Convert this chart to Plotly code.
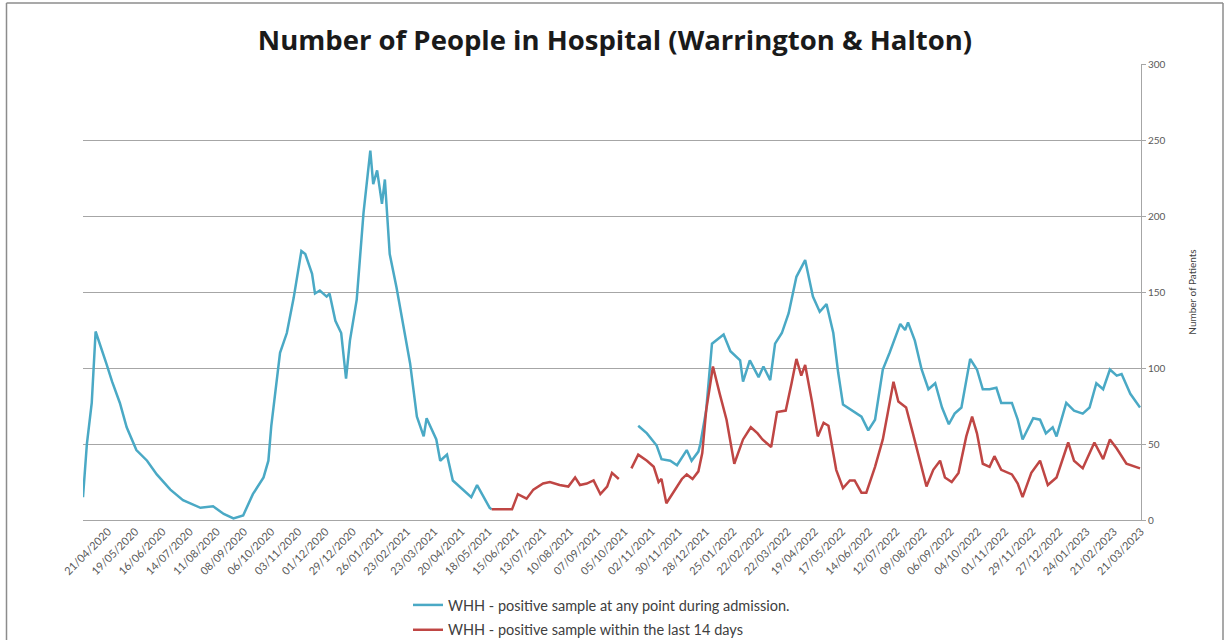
import pandas as pd
import plotly.graph_objects as go

# ---------------- data ----------------
START = "2020-03-26"          # first day of the series (day 0)
END = "2023-03-21"

tick_labels = [
    "21/04/2020", "19/05/2020", "16/06/2020", "14/07/2020", "11/08/2020", "08/09/2020",
    "06/10/2020", "03/11/2020", "01/12/2020", "29/12/2020", "26/01/2021", "23/02/2021",
    "23/03/2021", "20/04/2021", "18/05/2021", "15/06/2021", "13/07/2021", "10/08/2021",
    "07/09/2021", "05/10/2021", "02/11/2021", "30/11/2021", "28/12/2021", "25/01/2022",
    "22/02/2022", "22/03/2022", "19/04/2022", "17/05/2022", "14/06/2022", "12/07/2022",
    "09/08/2022", "06/09/2022", "04/10/2022", "01/11/2022", "29/11/2022", "27/12/2022",
    "24/01/2023", "21/02/2023", "21/03/2023",
]

# WHH - positive sample at any point during admission (day offset from START, patients)
any_day = [0, 4, 9, 13, 24, 30, 38, 45, 55, 66, 76, 90, 103, 121, 134, 145, 155, 165,
           175, 186, 191, 194, 203, 210, 217, 225, 229, 236, 239, 244, 251, 254, 260,
           266, 271, 275, 282, 289, 296, 299, 303, 308, 311, 316, 323, 330, 337, 344,
           351, 354, 364, 368, 375, 381, 392, 400, 406, 412, 419, 421,
           None,
           572, 581, 591, 596, 605, 612, 622, 627, 634, 636, 642, 648, 660, 667, 677,
           680, 687, 696, 701, 708, 713, 720, 727, 735, 744, 747, 752, 759, 766, 773,
           778, 783, 793, 802, 809, 816, 824, 831, 842, 847, 850, 857, 864, 871, 878,
           885, 892, 898, 905, 910, 914, 921, 927, 934, 941, 946, 957, 963, 968, 979,
           986, 992, 999, 1003, 1013, 1021, 1030, 1037, 1044, 1051, 1058, 1065, 1070,
           1079, 1089]
any_val = [15, 50, 77, 124, 103, 91, 77, 61, 46, 39, 30, 20, 13, 8, 9, 4, 1, 3,
           17, 28, 39, 62, 110, 123, 146, 177, 175, 162, 149, 151, 147, 149, 131,
           123, 93, 118, 145, 202, 243, 221, 230, 208, 224, 175, 153, 127, 103, 68,
           55, 67, 53, 39, 43, 26, 20, 15, 23, 16, 8, 7,
           None,
           62, 57, 49, 40, 39, 36, 46, 39, 45, 50, 72, 116, 122, 111, 105,
           91, 105, 94, 101, 92, 116, 123, 136, 160, 171, 162, 147, 137, 142, 123,
           97, 76, 72, 68, 59, 66, 99, 110, 129, 125, 130, 118, 99, 86, 90,
           74, 63, 70, 74, 92, 106, 99, 86, 86, 87, 77, 77, 66, 53, 67,
           66, 57, 61, 55, 77, 72, 70, 74, 90, 86, 99, 95, 96,
           83, 74]

# WHH - positive sample within the last 14 days
d14_day = [421, 442, 448, 457, 464, 474, 481, 491, 500, 507, 512, 519, 526, 533, 540,
           545, 552,
           None,
           565, 572, 581, 588, 593, 596, 601, 610, 617, 622, 628, 634, 638, 642, 649,
           656, 663, 671, 680, 688, 695, 700, 709, 715, 724, 730, 735, 740, 744, 751,
           757, 763, 768, 776, 783, 790, 795, 802, 807, 816, 824, 829, 835, 840, 848,
           855, 862, 869, 876, 883, 888, 895, 902, 910, 916, 921, 927, 934, 939, 946,
           957, 963, 968, 977, 986, 994, 1003, 1015, 1021, 1030, 1042, 1051, 1058,
           1065, 1075, 1089]
d14_val = [7, 7, 17, 14, 20, 24, 25, 23, 22, 28, 23, 24, 26, 17, 22,
           31, 27,
           None,
           34, 43, 39, 35, 25, 27, 11, 20, 27, 30, 27, 32, 44, 72, 101,
           83, 66, 37, 53, 61, 57, 53, 48, 71, 72, 90, 106, 95, 102, 78,
           55, 64, 62, 33, 21, 26, 26, 18, 18, 35, 53, 70, 91, 78, 74,
           57, 39, 22, 33, 39, 28, 25, 31, 55, 68, 57, 37, 35, 42, 33,
           30, 24, 15, 31, 39, 23, 28, 51, 39, 34, 51, 40, 53,
           47, 37, 34]

any_name = "WHH - positive sample at any point during admission."
d14_name = "WHH - positive sample within the last 14 days"

# ---------------- build ----------------
start = pd.Timestamp(START)


def to_dates(days):
    return [None if d is None else start + pd.Timedelta(days=d) for d in days]


tick_vals = pd.to_datetime(tick_labels, dayfirst=True)

FONT = "Lato"
BLUE = "#4AA9C5"
RED = "#BF4644"

fig = go.Figure()
fig.add_trace(go.Scatter(x=to_dates(any_day), y=any_val, mode="lines", name=any_name,
                         line=dict(color=BLUE, width=2.5), connectgaps=False,
                         legendgroup="a", showlegend=True))
fig.add_trace(go.Scatter(x=to_dates(d14_day), y=d14_val, mode="lines", name=d14_name,
                         line=dict(color=RED, width=2.5), connectgaps=False,
                         legendgroup="b", showlegend=True))

L, R, T, B = 83, 1141, 64, 520
W, H = 1230, 640


def px_x(px):
    return (px - L) / (R - L)


def px_y(py):
    return (B - py) / (B - T)


FRAME = dict(color="#8C8C8C", width=1.5)
frame_left, frame_right, frame_top, frame_bottom = 6.5, 1223, 3, 660

fig.update_layout(
    width=W, height=H,
    margin=dict(l=L, r=W - R, t=T, b=H - B, autoexpand=False),
    paper_bgcolor="white", plot_bgcolor="white",
    font=dict(family=FONT, color="#404040"),
    showlegend=True,
    title=dict(text="<b>Number of People in Hospital (Warrington &amp; Halton)</b>",
               x=0.5, xref="container", xanchor="center",
               y=1 - 40 / H, yref="container", yanchor="middle",
               font=dict(family="Open Sans", size=27.5, color="#1a1a1a")),
    legend=dict(x=px_x(408), xanchor="left", y=px_y(589), yanchor="top",
                orientation="v", tracegroupgap=3,
                bgcolor="rgba(0,0,0,0)", font=dict(size=14.5, color="#404040")),
    xaxis=dict(type="date", range=[START, END], tickvals=tick_vals, ticktext=tick_labels,
               tickangle=-45, tickfont=dict(size=11, color="#595959"),
               showgrid=False, showline=True, linecolor="#A6A6A6", linewidth=1,
               ticks="", zeroline=False),
    yaxis=dict(range=[0, 300], side="right", dtick=50, tick0=0,
               tickfont=dict(size=10, color="#595959"),
               showgrid=True, gridcolor="#A6A6A6", gridwidth=1,
               showline=True, linecolor="#A6A6A6", linewidth=1,
               ticks="outside", ticklen=4, tickcolor="#A6A6A6",
               zeroline=False,
               title=dict(text="Number of Patients", font=dict(size=10, color="#404040"),
                          standoff=24)),
    shapes=[
        dict(type="line", xref="paper", yref="paper", layer="above", line=FRAME,
             x0=px_x(frame_left), x1=px_x(frame_right),
             y0=px_y(frame_top), y1=px_y(frame_top)),
        dict(type="line", xref="paper", yref="paper", layer="above", line=FRAME,
             x0=px_x(frame_left), x1=px_x(frame_left),
             y0=px_y(frame_top), y1=px_y(frame_bottom)),
        dict(type="line", xref="paper", yref="paper", layer="above", line=FRAME,
             x0=px_x(frame_right), x1=px_x(frame_right),
             y0=px_y(frame_top), y1=px_y(frame_bottom)),
    ],
)

fig.write_html("out.html")
